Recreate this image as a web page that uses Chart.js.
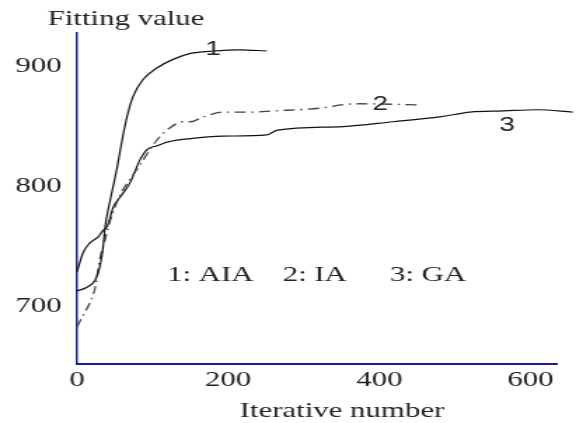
<!DOCTYPE html>
<html>
<head>
<meta charset="utf-8">
<script src="https://cdn.jsdelivr.net/npm/chart.js@4"></script>
<style>
  html, body { margin: 0; padding: 0; background: #fff; }
  canvas { display: block; }
</style>
</head>
<body>
<canvas id="plot" width="411" height="423" style="width:576px;height:423px"></canvas>
<script>
// Curve 1: AIA (solid)
let aiaX = [0, 13, 24, 30, 34, 37, 44, 53, 60, 66, 74, 87, 106, 127, 150, 180, 215, 251];
let aiaY = [713, 716, 722, 733, 747, 766, 789, 816, 840, 858, 875, 889, 899, 906, 911, 913, 914, 913];

// Curve 2: IA (dash-dot)
let iaX = [0, 4, 11, 17, 24, 30, 37, 44, 57, 70, 83, 106, 123, 140, 150, 167, 193, 225, 259, 331, 348, 374, 454];
let iaY = [683, 688, 696, 703, 716, 739, 756, 772, 793, 806, 818, 839, 849, 854, 854, 858, 862, 862, 863, 866, 868, 869, 868];

// Curve 3: GA (solid)
let gaX = [0, 8, 17, 28, 34, 40, 48, 58, 70, 83, 93, 106, 119, 150, 193, 251, 265, 352, 418, 480, 520, 564, 609, 656];
let gaY = [729, 745, 753, 758, 763, 767, 783, 792, 803, 822, 831, 834, 837, 840, 842, 843, 847, 850, 854, 858, 862, 863, 864, 862];

let xTicks = [0, 200, 400, 600];
let yTicks = [700, 800, 900];
let curveNames = ['1', '2', '3'];
let legendTexts = ['1: AIA', '2: IA', '3: GA'];
let xTitle = 'Iterative number';
let yTitle = 'Fitting value';

let toPoints = (xs, ys) => xs.map((v, i) => ({x: v, y: ys[i]}));

let serif = '"Liberation Serif", "Times New Roman", serif';
let axisBlue = '#1c1c9c';

// Texts drawn on top of the plot area
let textPlugin = {
  id: 'textPlugin',
  afterDraw(chart) {
    let {ctx, scales} = chart;
    let x = scales.x, y = scales.y;
    ctx.save();
    ctx.fillStyle = '#222';
    ctx.font = '22px ' + serif;
    ctx.textBaseline = 'alphabetic';
    ctx.textAlign = 'left';
    ctx.fillText(yTitle, 34, 25);
    ctx.textAlign = 'center';
    ctx.fillText(xTitle, 244, 417);

    // legend row
    ctx.textAlign = 'left';
    ctx.textBaseline = 'middle';
    let legendAt = [119, 272, 414];
    legendTexts.forEach((t, i) => {
      ctx.fillText(t, x.getPixelForValue(legendAt[i]), y.getPixelForValue(726));
    });

    // curve numbers
    ctx.font = '20px "Liberation Sans", Arial, sans-serif';
    ctx.textAlign = 'center';
    let nameAt = [[180, 914], [401, 868], [569, 851]];
    curveNames.forEach((t, i) => {
      ctx.fillText(t, x.getPixelForValue(nameAt[i][0]), y.getPixelForValue(nameAt[i][1]));
    });
    ctx.restore();
  }
};

let plotRef = document.getElementById('plot');

let config = {
  type: 'line',
  data: {
    datasets: [
      {
        label: 'AIA',
        data: toPoints(aiaX, aiaY),
        borderColor: '#111',
        borderWidth: 1.2,
        pointRadius: 0,
        cubicInterpolationMode: 'monotone',
        clip: false
      },
      {
        label: 'IA',
        data: toPoints(iaX, iaY),
        borderColor: '#444',
        borderWidth: 1.3,
        borderDash: [8, 4, 1.5, 4],
        pointRadius: 0,
        cubicInterpolationMode: 'monotone',
        clip: false
      },
      {
        label: 'GA',
        data: toPoints(gaX, gaY),
        borderColor: '#111',
        borderWidth: 1.2,
        pointRadius: 0,
        cubicInterpolationMode: 'monotone',
        clip: false
      }
    ]
  },
  options: {
    responsive: false,
    animation: false,
    devicePixelRatio: 1,
    layout: { padding: { top: 33, right: 13.6, left: 0, bottom: 0 } },
    plugins: {
      legend: { display: false },
      tooltip: { enabled: false }
    },
    scales: {
      x: {
        type: 'linear',
        min: 0,
        max: 635,
        afterFit: (scale) => { scale.height = 59; },
        afterBuildTicks: (scale) => { scale.ticks = xTicks.map(v => ({value: v})); },
        grid: { display: false, drawTicks: false },
        border: { color: axisBlue, width: 2 },
        ticks: { color: '#222', padding: 3, font: { family: serif, size: 22 } }
      },
      y: {
        type: 'linear',
        min: 652,
        max: 928,
        afterFit: (scale) => { scale.width = 55; },
        afterBuildTicks: (scale) => { scale.ticks = yTicks.map(v => ({value: v})); },
        grid: { display: false, drawTicks: false },
        border: { color: axisBlue, width: 1.5 },
        ticks: { color: '#222', padding: 11, font: { family: serif, size: 22 } }
      }
    }
  },
  plugins: [textPlugin]
};

let chart1 = new Chart(plotRef, config);
</script>
</body>
</html>
